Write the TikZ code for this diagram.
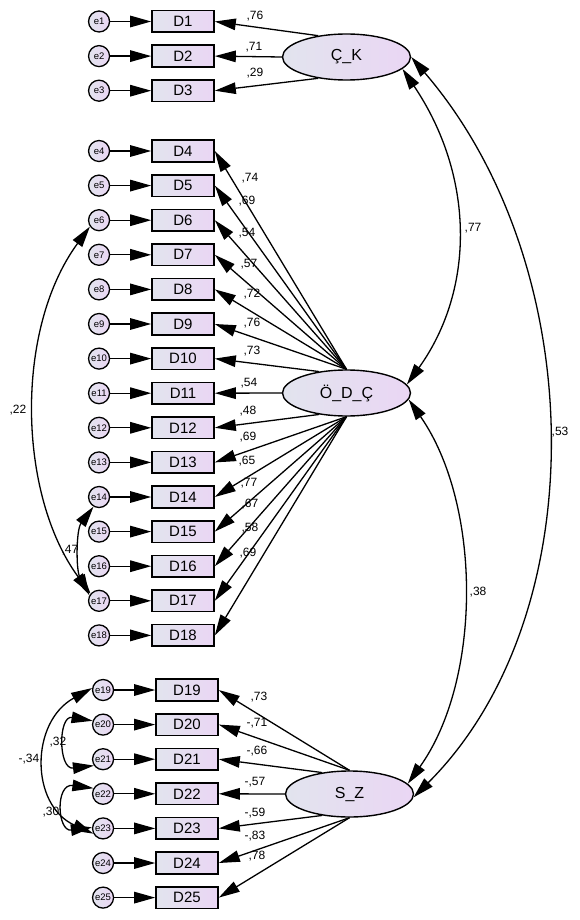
\documentclass[tikz,border=0pt]{standalone}
\usepackage{fontspec}
\setmainfont{Liberation Sans}
\usetikzlibrary{positioning, arrows.meta, shapes.geometric}

\definecolor{fillleft}{RGB}{226,228,238}
\definecolor{fillright}{RGB}{234,214,244}

\begin{document}
\begin{tikzpicture}[x=1pt, y=-1pt, line width=1.3pt,
        node distance=11.4pt and 41pt,
        >={Triangle[length=21pt, width=11.5pt]},
        itembox/.style={rectangle, draw=black, line width=1.6pt, left color=fillleft, right color=fillright, minimum width=62pt, minimum height=21.6pt, inner sep=0pt, font=\fontsize{15}{15}\selectfont},
        errnode/.style={circle, draw=black, line width=1.3pt, left color=fillleft, right color=fillright, minimum size=21pt, inner sep=0pt, font=\fontsize{9.5}{9.5}\selectfont},
        latentnode/.style={ellipse, draw=black, line width=1.4pt, left color=fillleft, right color=fillright, minimum width=128pt, minimum height=46pt, inner sep=0pt, font=\fontsize{16}{16}\selectfont},
        coef/.style={inner sep=0pt, font=\fontsize{12}{12}\selectfont},
]
        \useasboundingbox (0,0) rectangle (579,920);

        \node[latentnode] (ck) at (346.5,57) {Ç\_K};
        \node[latentnode] (odc) at (346.5,393) {Ö\_D\_Ç};
        \node[latentnode] (sz) at (349.5,794) {S\_Z};

        \node[itembox] (d1) at (183,21.5) {D1};
        \node[itembox] (d2) [below=of d1] {D2};
        \node[itembox] (d3) [below=of d2] {D3};
        \node[itembox] (d4) at (183,151) {D4};
        \node[itembox] (d5) [below=of d4] {D5};
        \node[itembox] (d6) [below=of d5] {D6};
        \node[itembox] (d7) [below=of d6] {D7};
        \node[itembox] (d8) [below=of d7] {D8};
        \node[itembox] (d9) [below=of d8] {D9};
        \node[itembox] (d10) [below=of d9] {D10};
        \node[itembox] (d11) [below=of d10] {D11};
        \node[itembox] (d12) [below=of d11] {D12};
        \node[itembox] (d13) [below=of d12] {D13};
        \node[itembox] (d14) [below=of d13] {D14};
        \node[itembox] (d15) [below=of d14] {D15};
        \node[itembox] (d16) [below=of d15] {D16};
        \node[itembox] (d17) [below=of d16] {D17};
        \node[itembox] (d18) [below=of d17] {D18};
        \node[itembox] (d19) at (187,690) {D19};
        \node[itembox] (d20) [below=of d19] {D20};
        \node[itembox] (d21) [below=of d20] {D21};
        \node[itembox] (d22) [below=of d21] {D22};
        \node[itembox] (d23) [below=of d22] {D23};
        \node[itembox] (d24) [below=of d23] {D24};
        \node[itembox] (d25) [below=of d24] {D25};

        \node[errnode] (e1) [left=of d1] {e1};
        \node[errnode] (e2) [left=of d2] {e2};
        \node[errnode] (e3) [left=of d3] {e3};
        \node[errnode] (e4) [left=of d4] {e4};
        \node[errnode] (e5) [left=of d5] {e5};
        \node[errnode] (e6) [left=of d6] {e6};
        \node[errnode] (e7) [left=of d7] {e7};
        \node[errnode] (e8) [left=of d8] {e8};
        \node[errnode] (e9) [left=of d9] {e9};
        \node[errnode] (e10) [left=of d10] {e10};
        \node[errnode] (e11) [left=of d11] {e11};
        \node[errnode] (e12) [left=of d12] {e12};
        \node[errnode] (e13) [left=of d13] {e13};
        \node[errnode] (e14) [left=of d14] {e14};
        \node[errnode] (e15) [left=of d15] {e15};
        \node[errnode] (e16) [left=of d16] {e16};
        \node[errnode] (e17) [left=of d17] {e17};
        \node[errnode] (e18) [left=of d18] {e18};
        \node[errnode] (e19) [left=of d19] {e19};
        \node[errnode] (e20) [left=of d20] {e20};
        \node[errnode] (e21) [left=of d21] {e21};
        \node[errnode] (e22) [left=of d22] {e22};
        \node[errnode] (e23) [left=of d23] {e23};
        \node[errnode] (e24) [left=of d24] {e24};
        \node[errnode] (e25) [left=of d25] {e25};

        \draw[->] (e1) -- (d1);
        \draw[->] (e2) -- (d2);
        \draw[->] (e3) -- (d3);
        \draw[->] (e4) -- (d4);
        \draw[->] (e5) -- (d5);
        \draw[->] (e6) -- (d6);
        \draw[->] (e7) -- (d7);
        \draw[->] (e8) -- (d8);
        \draw[->] (e9) -- (d9);
        \draw[->] (e10) -- (d10);
        \draw[->] (e11) -- (d11);
        \draw[->] (e12) -- (d12);
        \draw[->] (e13) -- (d13);
        \draw[->] (e14) -- (d14);
        \draw[->] (e15) -- (d15);
        \draw[->] (e16) -- (d16);
        \draw[->] (e17) -- (d17);
        \draw[->] (e18) -- (d18);
        \draw[->] (e19) -- (d19);
        \draw[->] (e20) -- (d20);
        \draw[->] (e21) -- (d21);
        \draw[->] (e22) -- (d22);
        \draw[->] (e23) -- (d23);
        \draw[->] (e24) -- (d24);
        \draw[->] (e25) -- (d25);

        \draw[->] (ck.143) -- (d1.east);
        \draw[->] (ck.west) -- (d2.east);
        \draw[->] (ck.217) -- (d3.east);
        \draw[->] (odc.north) -- (d4.east);
        \draw[->] (odc.north) -- (d5.east);
        \draw[->] (odc.north) -- (d6.east);
        \draw[->] (odc.north) -- (d7.east);
        \draw[->] (odc.north) -- (d8.east);
        \draw[->] (odc.north) -- (d9.east);
        \draw[->] (odc.142) -- (d10.east);
        \draw[->] (odc.west) -- (d11.east);
        \draw[->] (odc.218) -- (d12.east);
        \draw[->] (odc.south) -- (d13.east);
        \draw[->] (odc.south) -- (d14.east);
        \draw[->] (odc.south) -- (d15.east);
        \draw[->] (odc.south) -- (d16.east);
        \draw[->] (odc.south) -- (d17.east);
        \draw[->] (odc.south) -- (d18.east);
        \draw[->] (sz.north) -- (d19.east);
        \draw[->] (sz.north) -- (d20.east);
        \draw[->] (sz.142) -- (d21.east);
        \draw[->] (sz.west) -- (d22.east);
        \draw[->] (sz.218) -- (d23.east);
        \draw[->] (sz.south) -- (d24.east);
        \draw[->] (sz.south) -- (d25.east);

        \draw[<->] (ck.348) .. controls (474,175) and (476,288) .. (odc.8);
        \draw[<->] (ck.east) .. controls (590,265) and (596,615) .. (sz.357);
        \draw[<->] (odc.354) .. controls (482,505) and (482,680) .. (sz.10);
        \draw[<->] (e6.215) .. controls (14,330) and (18,495) .. (e17.140);
        \draw[<->] (e14.240) .. controls (76,530) and (76,570) .. (e17.150);
        \draw[<->] (e19.170) .. controls (30,722) and (30,805) .. (e23.208);
        \draw[<->] (e20.160) .. controls (58,715) and (58,770) .. (e21.215);
        \draw[<->] (e22.150) .. controls (55,783) and (57,832) .. (e23.175);

        \node[coef] (l1) at (255,16) {,76};
        \node[coef] (l2) at (254,47) {,71};
        \node[coef] (l3) at (255,73) {,29};
        \node[coef] (l4) at (250,178) {,74};
        \node[coef] (l5) at (247,201) {,69};
        \node[coef] (l6) at (247,233) {,54};
        \node[coef] (l7) at (249,264) {,57};
        \node[coef] (l8) at (252,294) {,72};
        \node[coef] (l9) at (252,323) {,76};
        \node[coef] (l10) at (252,351) {,73};
        \node[coef] (l11) at (249,383) {,54};
        \node[coef] (l12) at (248,411) {,48};
        \node[coef] (l13) at (248,437) {,69};
        \node[coef] (l14) at (247,461) {,65};
        \node[coef] (l15) at (249,483) {,77};
        \node[coef] (l16) at (250,504) {,67};
        \node[coef] (l17) at (250,528) {,58};
        \node[coef] (l18) at (248,553) {,69};
        \node[coef] (l19) at (259,697) {,73};
        \node[coef] (l20) at (257,723) {-,71};
        \node[coef] (l21) at (257,751) {-,66};
        \node[coef] (l22) at (255,782) {-,57};
        \node[coef] (l23) at (255,813) {-,59};
        \node[coef] (l24) at (255,836) {-,83};
        \node[coef] (l25) at (257,856) {,78};

        \node[coef] (r1) at (473,228) {,77};
        \node[coef] (r2) at (560,432) {,53};
        \node[coef] (r3) at (478,592) {,38};
        \node[coef] (r4) at (18,410) {,22};
        \node[coef] (r5) at (70,550) {,47};
        \node[coef] (r6) at (29,759) {-,34};
        \node[coef] (r7) at (58,742) {,32};
        \node[coef] (r8) at (51,812) {,30};
\end{tikzpicture}
\end{document}
